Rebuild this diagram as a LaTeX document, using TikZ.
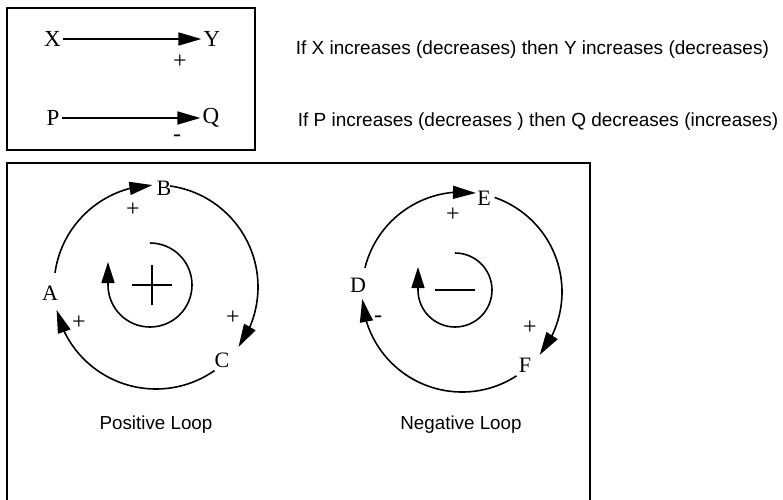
\documentclass[tikz,border=0pt]{standalone}
\usepackage{fontspec}
\setmainfont{Liberation Serif}
\newfontfamily\sansf{Liberation Sans}
\usetikzlibrary{arrows.meta,bending}
\begin{document}
\begin{tikzpicture}[x=1pt,y=1pt,
  line width=1.6pt,
  tipped/.style={-{Triangle[length=23pt,width=13pt]}},
  var/.style={font=\fontsize{23}{23}\selectfont, inner sep=1.5pt},
  lvar/.style={font=\fontsize{22}{22}\selectfont, inner sep=1pt},
  sgn/.style={font=\fontsize{24}{24}\selectfont, inner sep=0pt},
  expl/.style={font=\sansf\fontsize{19}{19}\selectfont, anchor=west, inner sep=0pt},
  looplbl/.style={font=\sansf\fontsize{18.8}{18.8}\selectfont, inner sep=0pt},
  bigsym/.style={line width=2.4pt}
]
\useasboundingbox (0,0) rectangle (783,499);
% frames
\draw[line width=1.7pt] (7,349) rectangle (255,491);
\draw[line width=1.7pt] (7,-5) rectangle (590,336);

% legend
\node[var] (X) at (52.5,460) {X};
\node[var] (Y) at (212,460) {Y};
\draw[tipped] (X) -- (Y);
\node[sgn] (s1) at (180,437) {+};
\node[var] (P) at (53,381) {P};
\node[var] (Q) at (211,381) {Q};
\draw[tipped] (P) -- (Q);
\node[sgn] (s2) at (177,361) {-};

\node[expl] (t1) at (295,449) {If X increases (decreases) then Y increases (decreases)};
\node[expl] (t2) at (297,377) {If P increases (decreases ) then Q decreases (increases)};

% positive loop
\coordinate (pc) at (156,212);
\coordinate (pic) at (150,214);
\node[lvar] (A) at (50,206) {A};
\node[lvar] (B) at (164,311) {B};
\node[lvar] (C) at (222,139) {C};
\draw[tipped] ([shift={(172:102)}]pc) arc[start angle=172,end angle=92,radius=102];
\draw[tipped] ([shift={(82:102)}]pc) arc[start angle=82,end angle=-36,radius=102];
\draw[tipped] ([shift={(-55:102)}]pc) arc[start angle=-55,end angle=-167,radius=102];
\node[sgn] (pab) at (133,289) {+};
\node[sgn] (pbc) at (233,181) {+};
\node[sgn] (pca) at (79,176) {+};
\draw[-{Triangle[length=21pt,width=13pt]}] ([shift={(90:42)}]pic) arc[start angle=90,end angle=-180,radius=42] -- ++(0,23);
\draw[bigsym] (132,214) -- (172,214) (152,194) -- (152,234);
\node[looplbl] (pl) at (156,74) {Positive Loop};

% negative loop
\coordinate (nc) at (462,207);
\coordinate (nic) at (455,209);
\node[lvar] (D) at (358,214) {D};
\node[lvar] (E) at (484,301) {E};
\node[lvar] (F) at (525,134) {F};
\draw[tipped] ([shift={(166:100)}]nc) arc[start angle=166,end angle=82,radius=100];
\draw[tipped] ([shift={(71:100)}]nc) arc[start angle=71,end angle=-39,radius=100];
\draw[tipped] ([shift={(-57:100)}]nc) arc[start angle=-57,end angle=-176,radius=100];
\node[sgn] (nde) at (453,284) {+};
\node[sgn] (nef) at (530,171) {+};
\node[sgn] (nfd) at (378,180) {-};
\draw[-{Triangle[length=21pt,width=13pt]}] ([shift={(90:37)}]nic) arc[start angle=90,end angle=-180,radius=37] -- ++(0,23);
\draw[bigsym] (435,209) -- (475,209);
\node[looplbl] (nl) at (461,74) {Negative Loop};
\end{tikzpicture}
\end{document}
